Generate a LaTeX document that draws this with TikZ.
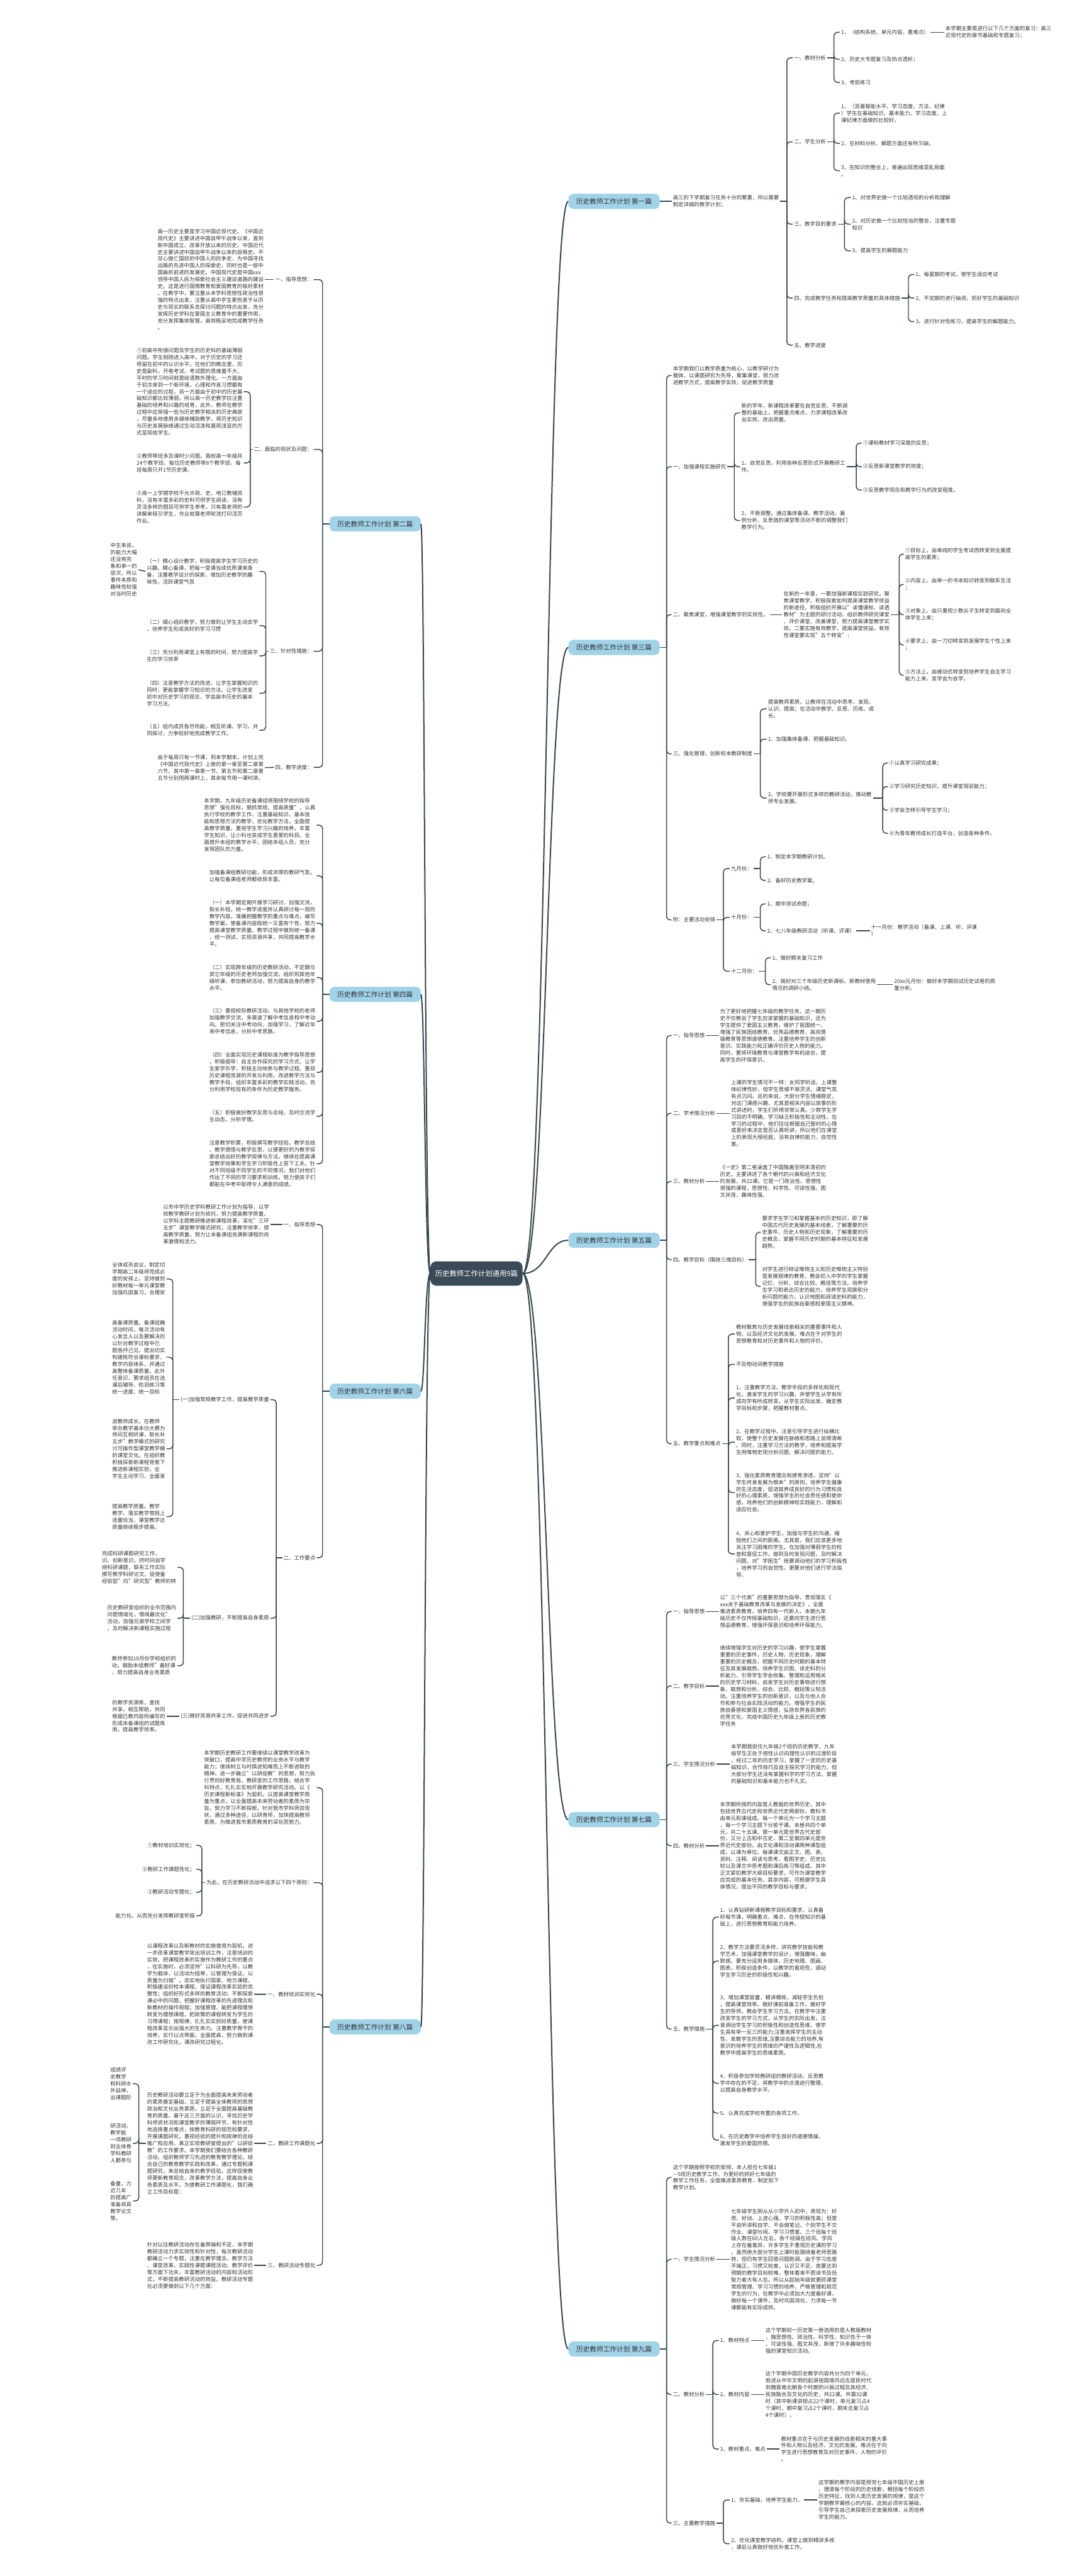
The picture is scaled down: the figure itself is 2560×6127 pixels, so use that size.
\documentclass[tikz,border=0pt]{standalone}
\usepackage{fontspec}
\setmainfont{Noto Sans CJK SC}
\definecolor{lc}{HTML}{37474F}
\definecolor{txc}{HTML}{333333}
\definecolor{bfill}{HTML}{A0D2E8}
\definecolor{cfill}{HTML}{3A4A56}
\newcommand\ft{\fontsize{12.6}{16.4}\selectfont}
\newcommand\fb{\fontsize{16}{19}\selectfont}
\newcommand\fc{\fontsize{17}{20}\selectfont}
\tikzset{
  tx/.style={font=\ft,align=left,inner xsep=3pt,inner ysep=1pt,text=txc},
  bn/.style={fill=bfill,rounded corners=12pt,minimum width=217pt,minimum height=36pt,font=\fb,text=txc,inner sep=0pt},
  cnode/.style={fill=cfill,rounded corners=14pt,minimum width=219pt,minimum height=58pt,font=\fc,text=white,inner sep=0pt},
  cn/.style={draw=lc,line width=2.2pt},
  mc/.style={draw=lc,line width=3pt},
}
\newcommand\nR[4]{\node[tx,anchor=west] (#1) at (#2,#3) {#4};}
\newcommand\nL[4]{\node[tx,anchor=east] (#1) at (#2,#3) {#4};}
\newcommand\brR[3]{\draw[cn] (#1.east) -- (#2,0 |- #1.east);
  \foreach \q in {#3}{\draw[cn,rounded corners=8pt] (#2,0 |- #1.east) |- (\q.west);}}
\newcommand\brL[3]{\draw[cn] (#1.west) -- (#2,0 |- #1.west);
  \foreach \q in {#3}{\draw[cn,rounded corners=8pt] (#2,0 |- #1.west) |- (\q.east);}}
\newcommand\lnR[2]{\draw[cn] (#1.east) -- (#2.west);}
\newcommand\lnL[2]{\draw[cn] (#1.west) -- (#2.east);}
\begin{document}
\begin{tikzpicture}[x=1pt,y=-1pt]
\fill[white] (0,0) rectangle (2560,6127);
\useasboundingbox (0,0) rectangle (2560,6127);
% centre
\node[cnode] (ctr) at (1133,3029) {历史教师工作计划通用9篇};
\node[bn] (b1) at (1460,479) {历史教师工作计划 第一篇};
\node[bn] (b3) at (1460,1540) {历史教师工作计划 第三篇};
\node[bn] (b5) at (1460,2950) {历史教师工作计划 第五篇};
\node[bn] (b7) at (1460,4328) {历史教师工作计划 第七篇};
\node[bn] (b9) at (1460,5587) {历史教师工作计划 第九篇};
\node[bn] (b2) at (892,1246) {历史教师工作计划 第二篇};
\node[bn] (b4) at (892,2365) {历史教师工作计划 第四篇};
\node[bn] (b6) at (892,3309) {历史教师工作计划 第六篇};
\node[bn] (b8) at (892,4821) {历史教师工作计划 第八篇};
\foreach \b/\y in {b1/479,b3/1540,b5/2950,b7/4328,b9/5587}{
  \draw[mc] (ctr.east) .. controls (1300,3029) and (1300,\y) .. (\b.west);}
\foreach \b/\y in {b2/1246,b4/2365,b6/3309,b8/4821}{
  \draw[mc] (ctr.west) .. controls (1010,3029) and (1010,\y) .. (\b.east);}
% ---------- 第一篇
\nR{a1}{1597}{479}{高三的下学期复习任务十分的繁重，所以需要\\制定详细的教学计划；}
\lnR{b1}{a1}
\nR{a1a}{1885}{137.5}{一、教材分析}
\nR{a1b}{1885}{337.5}{二、学生分析}
\nR{a1c}{1885}{533}{三、教学目的要求}
\nR{a1d}{1885}{709}{四、完成教学任务和提高教学质量的具体措施}
\nR{a1e}{1885}{821}{五、教学进度}
\brR{a1}{1871}{a1a,a1b,a1c,a1d,a1e}
\nR{a1a1}{1997}{77}{1、（结构系统、单元内容、重难点）}
\nR{a1a2}{1997}{141}{2、历史大专题复习及热点透析；}
\nR{a1a3}{1997}{196}{3、考前练习}
\brR{a1a}{1983}{a1a1,a1a2,a1a3}
\nR{a1a1x}{2245}{77}{本学期主要是进行以下几个方面的复习：高三\\近现代史的章节基础和专题复习；}
\lnR{a1a1}{a1a1x}
\nR{a1b1}{1997}{269}{1、（双基智能水平、学习态度、方法、纪律\\）学生在基础知识、基本能力、学习态度、上\\课纪律方面做的比较好。}
\nR{a1b2}{1997}{341}{2、在材料分析、解题方面还有所欠缺。}
\nR{a1b3}{1997}{406}{3、在知识的整合上，普遍出现思维混乱局面\\。}
\brR{a1b}{1983}{a1b1,a1b2,a1b3}
\nR{a1c1}{2023}{470}{1、对世界史做一个比较透彻的分析和理解}
\nR{a1c2}{2023}{533}{2、对历史做一个比较恰当的整合，注重专题\\知识}
\nR{a1c3}{2023}{596.5}{3、提高学生的解题能力}
\brR{a1c}{2008}{a1c1,a1c2,a1c3}
\nR{a1d1}{2174}{653}{1、每星期的考试，使学生适应考试}
\nR{a1d2}{2174}{709}{2、不定期的进行抽测，抓好学生的基础知识}
\nR{a1d3}{2174}{765}{3、进行针对性练习，提高学生的解题能力。}
\brR{a1d}{2160}{a1d1,a1d2,a1d3}
% ---------- 第三篇
\nR{c0}{1597}{893}{本学期我们以教学质量为核心，以教学研讨为\\载体，以课题研究为先导，聚集课堂，努力改\\进教学方式，提高教学实效，促进教学质量}
\nR{c1}{1597}{1110}{一、加强课程实施研究}
\nR{c2}{1597}{1462}{二、聚焦课堂，增强课堂教学的实效性。}
\nR{c3}{1597}{1793}{三、强化管理，创新校本教研制度}
\nR{c4}{1597}{2188}{附：主要活动安排}
\brR{b3}{1585}{c0,c1,c2,c3,c4}
\nR{c1a}{1760}{982}{新的学年，新课程改革要在自觉反思、不断调\\整的基础上，把握重点难点，力求课程改革改\\出实效、改出质量。}
\nR{c1b}{1760}{1110}{1、自觉反思。利用各种反思形式开展教研工\\作。}
\nR{c1c}{1760}{1238}{2、不断调整。通过集体备课、教学活动、案\\例分析、反思我的课堂等活动不断的调整我们\\教学行为。}
\brR{c1}{1746}{c1a,c1b,c1c}
\nR{c1b1}{2049}{1054}{①课标教材学习深度的反思；}
\nR{c1b2}{2049}{1110}{②反思新课堂教学的效度；}
\nR{c1b3}{2049}{1165.5}{③反思教学观念和教学行为的改变程度。}
\brR{c1b}{2036}{c1b1,c1b2,c1b3}
\nR{c2a}{1860}{1462}{在新的一年里，一要加强新课程实验研究，聚\\焦课堂教学，积极探索如何提高课堂教学效益\\的新途径。积极组织开展以"读懂课标、读透\\教材"为主题的研讨活动。组织教师研究课堂\\、评价课堂、改善课堂，努力提高课堂教学实\\效。二要实施有效教学，提高课堂效益。有效\\性课堂要实现"五个转变"：}
\lnR{c2}{c2a}
\nR{c2a1}{2149}{1318}{①目标上，由单纯的学生考试而转变到全面提\\高学生的素质；}
\nR{c2a2}{2149}{1390}{②内容上，由单一的书本知识转变到联系生活\\；}
\nR{c2a3}{2149}{1462}{③对象上，由只重视少数尖子生转变到面向全\\体学生上来；}
\nR{c2a4}{2149}{1534}{④要求上，由一刀切转变到发展学生个性上来\\；}
\nR{c2a5}{2149}{1606}{⑤方法上，由被动式转变到培养学生自主学习\\能力上来，变学会为会学。}
\brR{c2a}{2138}{c2a1,c2a2,c2a3,c2a4,c2a5}
\nR{c3a}{1823}{1686}{提高教师素质，让教师在活动中思考、发现、\\认识、提高；在活动中教学、反思、历练、成\\长。}
\nR{c3b}{1823}{1758}{1、加强集体备课，把握基础知识。}
\nR{c3c}{1823}{1898}{2、学校要开展形式多样的教研活动，推动教\\师专业发展。}
\brR{c3}{1808}{c3a,c3b,c3c}
\nR{c3c1}{2111}{1815}{①认真学习研究成果；}
\nR{c3c2}{2111}{1871}{②学习研究历史知识，提升课堂驾驭能力；}
\nR{c3c3}{2111}{1927}{③学会怎样引导学生学习；}
\nR{c3c4}{2111}{1982}{④为青年教师成长打造平台，创造各种条件。}
\brR{c3c}{2099}{c3c1,c3c2,c3c3,c3c4}
\nR{c4a}{1735}{2066}{九月份：}
\nR{c4b}{1735}{2182}{十月份：}
\nR{c4c}{1735}{2310}{十二月份：}
\brR{c4}{1720}{c4a,c4b,c4c}
\nR{c4a1}{1821}{2038}{1、制定本学期教研计划。}
\nR{c4a2}{1821}{2094}{2、备好历史教学案。}
\brR{c4a}{1808}{c4a1,c4a2}
\nR{c4b1}{1821}{2150}{1、期中测试命题；}
\nR{c4b2}{1821}{2214}{2、七八年级教研活动（听课、评课）}
\brR{c4b}{1808}{c4b1,c4b2}
\nR{c4b2x}{2068}{2214}{十一月份：教学活动（备课、上课、听、评课\\）}
\lnR{c4b2}{c4b2x}
\nR{c4c1}{1833}{2278}{1、做好期末复习工作}
\nR{c4c2}{1833}{2342}{2、搞好对三个年级历史新课标、新教材使用\\情况的调研小结。}
\brR{c4c}{1820}{c4c1,c4c2}
\nR{c4c2x}{2123}{2342}{20xx元月份：做好本学期测试历史试卷的质\\量分析。}
\lnR{c4c2}{c4c2x}
% ---------- 第五篇
\nR{e1}{1597}{2463}{一、指导思想}
\nR{e2}{1597}{2648}{二、学术情况分析}
\nR{e3}{1597}{2810}{三、教材分析}
\nR{e4}{1597}{2996}{四、教学目标（围绕三维目标）}
\nR{e5}{1597}{3434}{五、教学重点和难点}
\brR{b5}{1585}{e1,e2,e3,e4,e5}
\nR{e1x}{1709}{2463}{为了更好地把握七年级的教学任务，这一期历\\史不仅教会了学生应该掌握的基础知识，还为\\学生提供了爱国主义教育，维护了祖国统一，\\增强了民族团结教育、优秀品德教育、高尚情\\操教育等思想道德教育。注重培养学生的创新\\意识、实践能力和正确评价历史人物的能力。\\同时，要将环境教育与课堂教学有机结合，提\\高学生的环保意识。}
\lnR{e1}{e1x}
\nR{e2x}{1735}{2648}{上课的学生情况不一样：女同学听话，上课整\\体纪律性好，但学生思维不够灵活，课堂气氛\\有点沉闷。总的来说，大部分学生情绪稳定，\\对这门课感兴趣，尤其是相关内容以故事的形\\式讲述时，学生们听得非常认真。少数学生学\\习目的不明确，学习缺乏积极性和主动性。在\\学习的过程中，他们往往根据自己暂时的心情\\或喜好来决定是否认真听讲，所以他们在课堂\\上的表现大相径庭，没有自律的能力，自觉性\\差。}
\lnR{e2}{e2x}
\nR{e3x}{1709}{2810}{《一史》第二卷涵盖了中国隋唐至明末清初的\\历史，主要讲述了各个朝代的兴衰和经济文化\\的发展，共22课。它是一门政治性、思想性\\很强的课程，思想性、科学性、可读性强，图\\文并茂，趣味性强。}
\lnR{e3}{e3x}
\nR{e4a}{1809}{2931}{要求学生学习和掌握基本的历史知识，即了解\\中国古代历史发展的基本线索，了解重要的历\\史事件、历史人物和历史现象，了解重要的历\\史概念，掌握不同历史时期的基本特征和发展\\趋势。}
\nR{e4b}{1809}{3060}{对学生进行辩证唯物主义和历史唯物主义特别\\是发展规律的教育，教会初入中学的学生掌握\\记忆、分析、综合比较、概括等方法。培养学\\生学习和表达历史的能力，培养学生观察和分\\析问题的能力，认识地图和阅读史料的能力，\\增强学生的民族自豪感和爱国主义精神。}
\brR{e4}{1797}{e4a,e4b}
\nR{e5a}{1747}{3173}{教材聚焦与历史发展线索相关的重要事件和人\\物，以及经济文化的发展。难点在于对学生的\\思想教育和对历史事件和人物的评价。}
\nR{e5b}{1747}{3245}{不及物动词教学措施}
\nR{e5c}{1747}{3325}{1、注重教学方法、教学手段的多样化和现代\\化，激发学生的学习兴趣，并使学生从学有所\\成向学有所成转变。从学生实际出发，确定教\\学目标和步骤，把握教材重点。}
\nR{e5d}{1747}{3430}{2、在教学过程中，注意引导学生进行纵横比\\较，使整个历史发展在脉络和思路上显得清晰\\。同时，注重学习方法的教学，培养和提高学\\生用唯物史观分析问题、解决问题的能力。}
\nR{e5e}{1747}{3550}{3、强化素质教育理念和德育渗透，坚持"以\\学生终身发展为根本"的原则，培养学生健康\\的生活态度，促进其养成良好的行为习惯和良\\好的心理素质，增强学生的社会责任感和使命\\感，培养他们的创新精神和实践能力，理解和\\适应社会。}
\nR{e5f}{1747}{3696}{4、关心和爱护学生，加强与学生的沟通，缩\\短他们之间的距离。尤其是，我们应该更多地\\关注学习困难的学生。在加强对薄弱学生的检\\查和督促工作，做到及时发现问题，及时解决\\问题。对"学困生"既要调动他们的学习积极性\\，培养学习的自觉性，更要对他们进行学法指\\导。}
\brR{e5}{1732}{e5a,e5b,e5c,e5d,e5e,e5f}
% ---------- 第七篇
\nR{g1}{1597}{3833}{一、指导思想}
\nR{g2}{1597}{4010}{二、教学目标}
\nR{g3}{1597}{4196}{三、学生情况分析}
\nR{g4}{1597}{4390}{四、教材分析}
\nR{g5}{1597}{4826}{五、教学措施}
\brR{b7}{1585}{g1,g2,g3,g4,g5}
\nR{g1x}{1709}{3833}{以"三个代表"的重要思想为指导，贯彻落实《\\xxx关于基础教育改革与发展的决定》，全面\\推进素质教育，培养四有一代新人，本期九年\\级历史不仅传授基础知识，还要向学生进行思\\想品德教育，增强环保意识和培养环保能力。}
\lnR{g1}{g1x}
\nR{g2x}{1709}{4010}{继续增强学生对历史的学习兴趣，使学生掌握\\重要的历史事件，历史人物，历史现象，理解\\重要的历史概念，把握不同历史时期的基本特\\征及其发展趋势。培养学生识图、读史料的分\\析能力，引导学生学会收集、整理和运用相关\\的历史学习材料，启发学生对历史事物进行想\\象、联想和分析、综合、比较、概括等认知活\\动。注重培养学生的创新意识，以及与他人合\\作和参与社会实践活动的能力。增强学生的民\\族自豪感和爱国主义情感，弘扬世界各民族的\\优秀文化，完成中国历史九年级上册的历史教\\学任务}
\lnR{g2}{g2x}
\nR{g3x}{1735}{4196}{本学期我担任九年级2个班的历史教学，九年\\级学生正处于感性认识向理性认识的过渡阶段\\，经过二年的历史学习，掌握了一定的历史基\\础知识、合作技巧及自主探究学习的能力，但\\大部分学生还没有掌握科学的学习方法，掌握\\的基础知识和基本能力也不扎实。}
\lnR{g3}{g3x}
\nR{g4x}{1709}{4390}{本学期所授的内容是人教版的世界历史，其中\\包括世界古代史和世界近代史两部份，教科书\\由单元和课组成。每一个单元为一个学习主题\\，每一个学习主题下分若干课。本册共四个单\\元，共二十五课。第一单元是世界古代史部\\份，又分上古和中古史，第二至第四单元是世\\界近代史部份。由文化课和活动课两种课型组\\成，以课为单位。每课课文由正文、图、表、\\资料、注释、阅读与思考、看图学史、历史比\\较以及课文中思考题和课后练习等组成。其中\\正文紧扣教学大纲目标要求，可作为课堂教学\\应完成的基本任务。其余内容，可根据学生具\\体情况，提出不同的教学目标与要求。}
\lnR{g4}{g4x}
\nR{g5a}{1709}{4560}{1、认真钻研新课程教学目标和要求，认真备\\好每节课，明确重点、难点，在传授知识的基\\础上，进行思想教育和能力培养。}
\nR{g5b}{1709}{4664.5}{2、教学方法要灵活多样，讲究教学技能和教\\学艺术，加强课堂教学的设计，增强趣味，幽\\默感。要充分运用多媒体、历史地理、图画、\\图表，积极创造条件，以教学的直观性，调动\\学生学习历史的积极性和兴趣。}
\nR{g5c}{1709}{4817}{3、增加课堂容量，精讲精练，减轻学生负担\\，提高课堂效率。做好课前准备工作，做好学\\生的导师。教会学生学习方法。在教学中注重\\改变学生的学习方式，从学生的实际出发，注\\意调动学生学习的积极性和创造性思维，使学\\生具有举一反三的能力;注重发挥学生的主动\\性，发散学生的思维,注重综合能力的培养,有\\意识的培养学生的思维的严谨性及逻辑性,在\\教学中提高学生的思维素质。}
\nR{g5d}{1709}{4955}{4、积极参加学校教研组的教研活动，反思教\\学中存在的不足，将教学中的点滴进行整理，\\以提高自身教学水平。}
\nR{g5e}{1709}{5026}{5、认真完成学校布置的各项工作。}
\nR{g5f}{1709}{5090}{6、在历史教学中培养学生良好的道德情操，\\激发学生的爱国热情。}
\brR{g5}{1695}{g5a,g5b,g5c,g5d,g5e,g5f}
% ---------- 第九篇
\nR{h0}{1597}{5179}{这个学期按照学校的安排，本人担任七年级1\\—5班历史教学工作，为更好的抓好七年级的\\教学工作任务，全面推进素质教育，制定如下\\教学计划。}
\nR{h1}{1597}{5374}{一、学生情况分析}
\nR{h2}{1597}{5695}{二、教材分析}
\nR{h3}{1597}{6001}{三、主要教学措施}
\brR{b9}{1585}{h0,h1,h2,h3}
\nR{h1x}{1735}{5374}{七年级学生刚从从小学升入初中，表现为：好\\奇、好动、上进心强、学习的积极性高；但是\\不会听讲和自学、不会做笔记、个别学生不交\\作业、课堂吵闹、学习习惯差。三个班每个班\\级人数在60人左右，各个班级在班风、学风\\上存在着差异，许多学生不重视历史课的学习\\。虽然绝大部分学生上课时能围绕着老师思路\\转，但仍有学生回答问题跑调。由于学习态度\\不端正，习惯又较差，认识又不足，故要达到\\预期的教学目标较难，整体看来不愿读书及低\\智力者大有人在。所以从起始年级就要抓课堂\\常规管理、学习习惯的培养，严格管理和规范\\学生的行为，在教学中必须加大力度备好课，\\做好每一个课件，及时巩固消化，力求每一节\\课都能有实际成效。}
\lnR{h1}{h1x}
\nR{h2a}{1709}{5567}{1、教材特点}
\nR{h2b}{1709}{5695}{2、教材内容}
\nR{h2c}{1709}{5825}{3、教材重点、难点}
\brR{h2}{1695}{h2a,h2b,h2c}
\nR{h2ax}{1817}{5567}{这个学期初一历史第一册选用的是人教版教材\\，融思想性、政治性、科学性、知识性于一体\\。可读性强，图文并茂，新增了许多趣味性较\\强的课堂知识活动。}
\lnR{h2a}{h2ax}
\nR{h2bx}{1817}{5695}{这个学期中国历史教学内容共分为四个单元，\\叙述从中华文明的起源祖国境内远古居民时代\\到魏晋南北朝各个时期的兴衰过程及其经济、\\民族融合及文化的历史，共22课。共需32课\\时（其中新课讲授占22个课时，单元复习占4\\个课时，期中复习占2个课时，期末总复习占\\4个课时）。}
\lnR{h2b}{h2bx}
\nR{h2cx}{1854}{5825}{教材重点在于与历史发展的线索相关的重大事\\件和人物以及经济、文化的发展。难点在于向\\学生进行思想教育及对历史事件、人物的评价\\。}
\lnR{h2c}{h2cx}
\nR{h3a}{1735}{5946}{1、夯实基础，培养学生能力。}
\nR{h3b}{1735}{6050}{2、优化课堂教学结构，课堂上做到精讲多练\\，课后认真做好培优补差工作。}
\brR{h3}{1720}{h3a,h3b}
\nR{h3ax}{1943}{5946}{这学期的教学内容是授完七年级中国历史上册\\。理清每个阶段的历史线索，概括每个阶段的\\历史特征，找到人类历史发展的规律，是这个\\学期教学最核心的内容。这就必须夯实基础，\\引导学生自己来探索历史发展规律，从而培养\\学生的能力。}
\lnR{h3a}{h3ax}
% ---------- 第二篇
\nL{k1}{746}{665}{一、指导思想：}
\nL{k2}{746}{1069}{二、面临的现状及问题：}
\nL{k3}{746}{1549}{三、针对性措施：}
\nL{k4}{746}{1825}{四、教学进度：}
\brL{b2}{767}{k1,k2,k3,k4}
\nL{k1x}{630}{665}{高一历史主要是学习中国近现代史。《中国近\\现代史》主要讲述中国自甲午战争以来，直到\\新中国成立、改革开放以来的历史。中国近代\\史主要讲述中国自甲午战争以来的屈辱史、不\\甘心做亡国奴的中国人的抗争史、为中国寻找\\出路的先进中国人的探索史，同时也是一部中\\国曲折前进的发展史。中国现代史是中国xxx\\领导中国人民为探索社会主义建设道路的建设\\史。这是进行国情教育和爱国教育的极好素材\\。在教学中，要注重从本学科思想性政治性很\\强的特点出发，注重从高中学生更热衷于从历\\史与现实的联系去探讨问题的特点出发，充分\\发挥历史学科在爱国主义教育中的重要作用，\\充分发挥集体智慧，高效稳妥地完成教学任务\\。}
\lnL{k1}{k1x}
\nL{k2a}{580}{931.6}{①初高中衔接问题及学生的历史科的基础薄弱\\问题。学生刚刚进入高中，对于历史的学习还\\停留在初中的认识水平。在他们的概念里，历\\史是副科，开卷考试，考试题的思维量不大，\\平时的学习时间就是给语数外理化。一方面由\\于初次来到一个新环境，心理和作息习惯都有\\一个适应的过程，另一方面由于初中的历史基\\础知识都比较薄弱，所以高一历史教学应注重\\基础的培养和兴趣的培育。此外，教师在教学\\过程中应穿插一些与历史教学相关的历史典故\\，尽量多地使用多媒体辅助教学，将历史知识\\与历史发展脉络通过生动活泼和直观浅显的方\\式呈现给学生。}
\nL{k2b}{580}{1101}{②教师带班多及课时少问题。我校高一年级共\\24个教学班，每位历史教师带8个教学班，每\\班每周只开1节历史课。}
\nL{k2c}{580}{1206}{③高一上学期学校不允许政、史、地订教辅资\\料，没有丰富多彩的史料可供学生阅读，没有\\灵活多样的题目可供学生参考，只有靠老师的\\讲解来吸引学生，作业就靠老师轮流打印活页\\作业。}
\brL{k2}{595}{k2a,k2b,k2c}
\nL{k3a}{617}{1359}{（一）精心设计教学，积极提高学生学习历史的\\兴趣。精心备课，把每一堂课当成优质课来准\\备，注重教学设计的探索，增加历史教学的趣\\味性，活跃课堂气氛}
\nL{k3b}{617}{1488}{（二）细心组织教学，努力做到让学生主动去学\\，培养学生形成良好的学习习惯}
\nL{k3c}{617}{1560}{（三）充分利用课堂上有限的时间，努力提高学\\生的学习效率}
\nL{k3d}{617}{1649}{（四）注意教学方法的改进，让学生掌握知识的\\同时，更能掌握学习知识的方法。让学生改变\\初中对历史学习的观念，学会高中历史的基本\\学习方法。}
\nL{k3e}{617}{1737}{（五）组内成员各尽所能，相互听课、学习，共\\同探讨，力争较好地完成教学工作。}
\brL{k3}{632}{k3a,k3b,k3c,k3d,k3e}
\nL{k3ax}{329}{1355}{中生来说，\\的能力大幅\\还没有完\\象和单一的\\层次。所以\\事件本质和\\趣味性较强\\对当时历史}
\lnL{k3a}{k3ax}
\nL{k4x}{630}{1826}{由于每周只有一节课，到本学期末，计划上完\\《中国近代现代史》上册的第一章至第二章第\\六节。其中第一章第一节、第五节和第二章第\\五节分别用两课时上，其余每节用一课时讲。}
\lnL{k4}{k4x}
% ---------- 第四篇
\nL{m1}{753}{1962.7}{本学期，九年级历史备课组将围绕学校的指导\\思想"强化目标，狠抓常规，提高质量"，认真\\执行学校的教学工作，注重基础知识、基本技\\能和思想方法的教学，优化教学方法，全面提\\高教学质量，重视学生学习兴趣的培养，丰富\\学生知识，让小科也变成学生喜爱的科目。全\\面提升本组的教学水平，团结本组人员，充分\\发挥团队的力量。}
\nL{m2}{753}{2083}{加强备课组教研功能，形成浓厚的教研气氛，\\让每位备课组老师都收获丰富。}
\nL{m3}{753}{2196}{（一）本学期定期开展学习研讨，加强交流，\\取长补短，统一教学进度并认真研讨每一周的\\教学内容，准确把握教学的重点与难点，编写\\教学案，使备课内容既统一又富有个性，努力\\提高课堂教学质量。教学过程中做到统一备课\\，统一测试，实现资源共享，共同提高教学水\\平。}
\nL{m4}{753}{2325}{（二）实现跨年级的历史教研活动，不定期与\\其它年级的历史老师加强交流，组织到其他年\\级听课，参加教研活动，努力提高自身的教学\\水平。}
\nL{m5}{753}{2429}{（三）重视校际教研活动，与其他学校的老师\\加强教学交流，多渠道了解中考信息和中考动\\向。密切关注中考动向，加强学习，了解近年\\来中考信息，分析中考思路。}
\nL{m6}{753}{2550.6}{（四）全面实现历史课程标准为教学指导思想\\，积极倡导：自主合作探究的学习方式，让学\\生爱学乐学，积极主动地参与教学过程。重视\\历史课程资源的开发与利用，改进教学方法与\\教学手段，组织丰富多彩的教学实践活动，充\\分利用学校现有的条件为历史教学服务。}
\nL{m7}{753}{2655}{（五）积极做好教学反思与总结，及时交流学\\生动态，分析学情。}
\nL{m8}{753}{2768}{注意教学积累，积极撰写教学经验，教学总结\\、教学感悟与教学反思，以便更好的为教学探\\索总结出好的教学规律与方法。继续在提高课\\堂教学效果和学生学习积极性上苦下工夫。针\\对不同班级不同学生的不同情况，我们对他们\\作出了不同的学习要求和训练，努力使孩子们\\都能在中考中取得令人满意的成绩。}
\brL{b4}{767}{m1,m2,m3,m4,m5,m6,m7,m8}
% ---------- 第六篇
\nL{n1}{753}{2912.6}{一、指导思想}
\nL{n2}{753}{3705}{二、工作要点}
\brL{b6}{767}{n1,n2}
\nL{n1x}{643}{2912.6}{以市中学历史学科教研工作计划为指导，以学\\校教学教研计划为依托，努力提高教学质量，\\以学科主题教研推进新课程改革，深化"三环\\五步"课堂教学模式研究，注重教学效率，提\\高教学质量，努力让本备课组充满新课程的改\\革激情和活力。}
\lnL{n1}{n1x}
\nL{n2a}{643}{3329}{(一)加强常规教学工作，提高教学质量}
\nL{n2b}{643}{3849}{(二)加强教研，不断提高自身素质}
\nL{n2c}{643}{4082}{(三)做好资源共享工作，促进共同进步}
\brL{n2}{657}{n2a,n2b,n2c}
\nL{n2a1}{396}{3042}{全体成员会议，制定切\\学期高二年级将完成必\\度的安排上，坚持做到\\好教材每一单元课堂教\\加强巩固复习，合理安}
\nL{n2a2}{396}{3228}{高备课质量。备课组确\\活动时间，每次活动有\\心发言人以及要解决的\\以针对教学过程中已\\题各抒己见，提出切实\\构建既符合课标要求，\\教学内容体系，并通过\\高整体备课质量。此外\\任意识，要求组员在选\\课后辅导、检测练习等\\统一进度、统一目标}
\nL{n2a3}{396}{3446}{进教师成长。在教师\\举办教学基本功大赛为\\师间互相听课，取长补\\五步"教学模式的研究\\讨可操作型课堂教学模\\的课堂文化。在组织教\\积极探索新课程背景下\\推进新课程实验，全\\学生主动学习、全面发}
\nL{n2a4}{396}{3607}{提高教学质量。教学\\教学、落实教学常规上\\适量恰当，课堂教学达\\质量继续稳步提高。}
\brL{n2a}{411}{n2a1,n2a2,n2a3,n2a4}
\nL{n2b1}{422}{3728}{完成科研课题研究工作，\\识、创新意识。挤时间自学\\绕科研课题，联系工作实际\\撰写教学科研论文，促使备\\经验型"向"研究型"教师的转}
\nL{n2b2}{422}{3849}{历史教研室组织的全市范围内\\问题情境化，情境最优化"\\活动，加强兄弟学校之间学\\，及时解决新课程实施过程}
\nL{n2b3}{422}{3962}{教师参加10月份学校组织的\\动，鼓励本组教师"备好课\\，努力提高自身业务素质}
\brL{n2b}{436}{n2b1,n2b2,n2b3}
\nL{n2cx}{396}{4082}{的教学资源库，查找\\共享，相互帮助，共同\\根据已教内容所编写的\\形成本备课组的试题库\\用，提高教学效率。}
\lnL{n2c}{n2cx}
% ---------- 第八篇
\nL{p0}{753}{4252}{本学期历史教研工作要继续以课堂教学改革为\\突破口，提高中学历史教师的业务水平与教学\\能力；继续树立与时俱进知难而上不断进取的\\精神，进一步确立"以研促教"的思想，努力执\\行贯彻好教育局、教研室的工作思路，结合学\\科特点，扎扎实实地开展教学研究活动。以《\\历史课程新标准》为契机，以提高课堂教学质\\量为重点，以全面提高未来劳动者的素质为宗\\旨，努力学习不断探索。针对我市学科师资现\\状，通过多种途径，以研育师，加快提高教师\\素质，为推进我市素质教育的深化而努力。}
\nL{p1}{746}{4478}{为此，在历史教研活动中追求以下四个原则：}
\nL{p2}{753}{4743}{一、教材培训实效化}
\nL{p3}{753}{5098}{二、教研工作课题化}
\nL{p4}{753}{5388}{三、教研活动专题化}
\brL{b8}{767}{p0,p1,p2,p3,p4}
\nL{p1a}{467}{4389}{①教材培训实效化；}
\nL{p1b}{467}{4446}{②教研工作课题性化；}
\nL{p1c}{467}{4500.7}{③教研活动专题化；}
\nL{p1d}{467}{4557}{能力化。从而充分发挥教研室积极}
\brL{p1}{480}{p1a,p1b,p1c,p1d}
\nL{p2x}{605}{4743}{以课程改革以及新教材的实施使用为契机，进\\一步改革课堂教学突出培训工作，注意培训的\\实效，把课程改革的实施作为教研工作的重点\\，在实施时，必须坚持"以科研为先导，以教\\学为载体，以活动为纽带，以管理为保证，以\\质量为归宿"。忠实地执行国家、地方课程，\\积极建设好校本课程，保证课程改革实验的完\\整性；组织好形式多样的教育活动；不断探索\\课必中的问题，把握好课程改革的先进理念和\\新教材的操作规程；加强管理，能把课程理想\\转变为理想课程，把政策的课程转变为学生的\\习得课程；按规律，扎扎实实抓好质量，使课\\程改革显示出强大的生命力。注重教学骨干的\\培养，实行以点带面，全面提高，努力做到课\\改工作研究化，课改研究过程化。}
\lnL{p2}{p2x}
\nL{p3x}{605}{5098}{历史教研活动要立足于为全面提高未来劳动者\\的素质奠定基础，立足于提高全体教师的思想\\政治和文化业务素质，立足于全面提高基础教\\育的质量。基于这三方面的认识，寻找历史学\\科师资状况和课堂教学的薄弱环节，有针对性\\地选择重点难点，按教育科研的规范和要求，\\开展课题研究，重视经验的提升和规律的总结\\推广和应用，真正实现教研室提出的"以研促\\教"的工作要求。本学期我们要结合各种教研\\活动，组织教师学习先进的教育教学理论，结\\合自己的教育教学实践和改革，通过专题和课\\题研究，来总结自身的教学经验。这样促使教\\师更新教育观念，改革教学方法，提高自身业\\务素质及水平。为使教研工作课题化，我们确\\立工作目标是：}
\lnL{p3}{p3x}
\nL{p3a}{316}{4956}{成绩评\\史教学\\和科研水\\外延伸，\\出课题阶}
\nL{p3b}{316}{5098}{研活动，\\教学能\\一项教研\\则全体骨\\学科教研\\人都参与}
\nL{p3c}{316}{5235}{备量，力\\近几年\\的提高广\\准备将具\\教学论文\\等。}
\brL{p3x}{330}{p3a,p3b,p3c}
\nL{p4x}{605}{5388}{针对以往教研活动存在着弊端和不足，本学期\\教研活动力求实效性和针对性，每次教研活动\\都确立一个专题，注重在教学理念、教学方法\\、课堂改革、实践性课题课程活动、教学评价\\等方面下功夫，丰富教研活动的内容和活动形\\式，不断提高教研活动的效益。教研活动专题\\化必须要做到以下几个方面：}
\lnL{p4}{p4x}
\end{tikzpicture}
\end{document}
